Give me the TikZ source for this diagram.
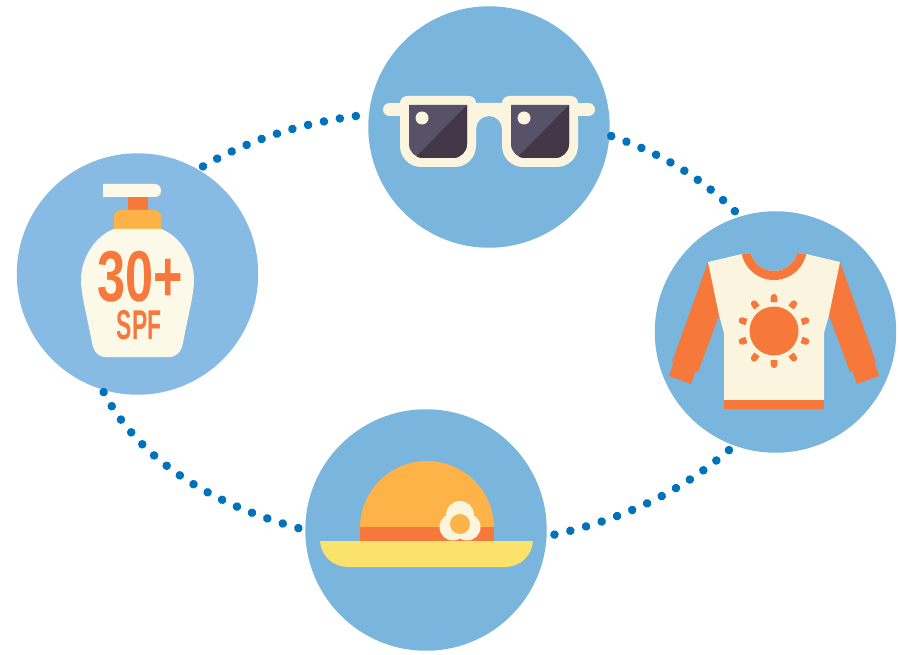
\documentclass[tikz,border=0pt]{standalone}
\usepackage{fontspec}
\setmainfont{Liberation Sans}
\usepackage{xcolor}
\usetikzlibrary{calc,decorations.markings}
\definecolor{badgeblue}{HTML}{79B5DC}
\definecolor{badgelight}{HTML}{88BBE3}
\definecolor{dotblue}{HTML}{0072BC}
\definecolor{cream}{HTML}{FBF5DF}
\definecolor{bottlecream}{HTML}{FDF9E8}
\definecolor{burnt}{HTML}{F6793B}
\definecolor{amber}{HTML}{FDB347}
\definecolor{brim}{HTML}{FAE26B}
\definecolor{lenslight}{HTML}{575268}
\definecolor{lensdark}{HTML}{433747}

\begin{document}
\begin{tikzpicture}[x=0.02cm,y=-0.02cm,
    badge/.style={circle,fill=badgeblue,minimum size=4.83cm,inner sep=0pt,outer sep=0pt},
    dotlink/.style n args={3}{decoration={markings,
      mark=between positions #1 and #2 step {(\pgfdecoratedpathlength-#1+#2)/#3} with {\fill[dotblue] (0,0) circle[radius=2.45pt];}},
      decorate},
    label/.style={text=burnt,font=\bfseries,inner sep=0pt,transform shape}]
  \useasboundingbox (0,0) rectangle (899,655);

  \node[badge] (glasses) at (489,127) {};
  \node[badge,fill=badgelight] (lotion) at (137.5,274) {};
  \node[badge] (sweater) at (775.5,332) {};
  \node[badge] (hat) at (426,530) {};

  \draw[dotlink={3.4pt}{-7.4pt}{10.01}] (lotion.60) .. controls (249,139) and (303,122) .. (glasses.174);
  \draw[dotlink={1.1pt}{-4.2pt}{9.01}] (glasses.356) .. controls (658,152) and (701,176) .. (sweater.107);
  \draw[dotlink={4pt}{-4.5pt}{12.01}] (sweater.250) .. controls (680,494) and (619,521) .. (hat.357);
  \draw[dotlink={1.7pt}{-4pt}{15.01}] (lotion.253) .. controls (141,465) and (219,507) .. (hat.180);

  % sunglasses
  \draw[cream,line width=7.4pt,line cap=round] (389.5,109.5) -- (588.5,109.5);
  \fill[cream] (474,103) -- (504,103) -- (504,129) -- (502,129) arc[start angle=0,end angle=-180,radius=13] -- (474,129) -- cycle;
  \foreach \dx/\glint in {0/422,102/422} {
    \begin{scope}[shift={(\dx,0)}]
      \fill[cream] (400,125) [rounded corners=4pt] -- (400,96) -- (476,96) -- (476,125) [rounded corners=12pt] -- (476,167) -- (400,167) -- cycle;
      \begin{scope}
        \clip (409,105) -- (467,105) [rounded corners=8pt] -- (467,158) -- (409,158) [sharp corners] -- cycle;
        \fill[lenslight] (405,100) rectangle (470,160);
        \fill[lensdark] (467,105) -- (472,105) -- (472,162) -- (411,162) -- cycle;
      \end{scope}
      \fill[cream] (\glint,118) circle[radius=6.5];
    \end{scope}
  }

  % bottle
  \fill[bottlecream] (103,184) [rounded corners=3.5pt] -- (161,184) -- (161,197) [sharp corners] -- (103,197) -- cycle;
  \fill[burnt] (128,197) rectangle (148,211);
  \fill[amber] (114,229) [rounded corners=4pt] -- (114,210) -- (161,210) [sharp corners] -- (161,229) -- cycle;
  \fill[bottlecream] (114,229) .. controls (95,236) and (81,258) .. (81,280)
    .. controls (81,295) and (88,320) .. (92,343)
    .. controls (94,352) and (98,357) .. (106,357) -- (169,357)
    .. controls (177,357) and (181,352) .. (183,343)
    .. controls (187,320) and (194,295) .. (194,280)
    .. controls (194,258) and (180,236) .. (161,229) -- cycle;
  \node[label,xscale=0.7,font=\bfseries\fontsize{41}{41}\selectfont] (spfvalue) at (140,277) {30+};
  \node[label,xscale=0.55,font=\bfseries\fontsize{23.7}{24}\selectfont] (spfname) at (139,325) {SPF};

  % sweater
  \fill[burnt] (708,262) -- (672,362) -- (698,372) -- (721,310) -- cycle;
  \fill[burnt] (676,355) -- (669,376) -- (691,384) -- (699,362) -- cycle;
  \fill[burnt] (840,262) -- (876,362) -- (850,372) -- (827,310) -- cycle;
  \fill[burnt] (872,355) -- (879,376) -- (857,384) -- (849,362) -- cycle;
  \fill[cream] (708,262) -- (742,254) -- (750.8,253.2) arc[start angle=165,end angle=15,radius=24] -- (806,254) -- (840,262) -- (829,315) -- (824,333) -- (824,400) -- (724,400) -- (724,333) -- (719,315) -- cycle;
  \fill[burnt] (724,400) rectangle (824,409);
  \fill[burnt] (741.7,253.9) arc[start angle=168,end angle=12,radius=33] -- (797.2,253.2) arc[start angle=15,end angle=165,radius=24] -- cycle;
  \fill[burnt] (774,331) circle[radius=24.5];
  \foreach \a in {0,36,...,324} {
    \fill[burnt,rotate around={\a:(774,331)}] (770.7,302) {[rounded corners=1.8pt] -- (770.7,294) -- (777.3,294)} -- (777.3,302) -- cycle;
  }

  % hat
  \fill[amber] (360,528) arc[start angle=180,end angle=360,radius=67] -- cycle;
  \fill[burnt] (360,527) rectangle (494,541);
  \fill[brim] (320,541) -- (533,541) .. controls (532,556) and (520,567) .. (505,567) -- (348,567) .. controls (333,567) and (321,556) .. (320,541) -- cycle;
  \fill[cream] (460,515) circle[radius=14] (453,527) circle[radius=13.5] (467,527) circle[radius=13.5];
  \fill[amber] (460,524) circle[radius=10];
\end{tikzpicture}
\end{document}
